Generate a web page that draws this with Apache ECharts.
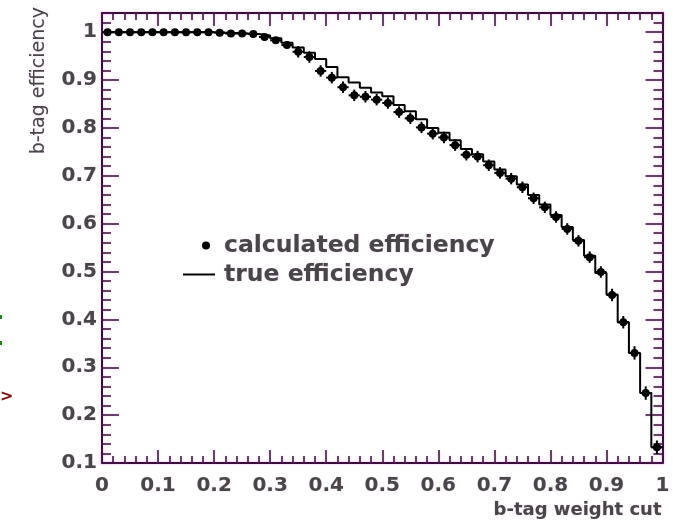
<!DOCTYPE html>
<html>
<head>
<meta charset="utf-8">
<script src="https://cdn.jsdelivr.net/npm/echarts@6/dist/echarts.min.js"></script>
<style>
  html, body { margin: 0; padding: 0; background: #ffffff; }
  #chart { width: 673px; height: 527px; }
</style>
</head>
<body>
<div id="chart"></div>
<script>
// b-tag weight cut values (bin centres, bin width 0.02)
const cutValues = [
  0.01, 0.03, 0.05, 0.07, 0.09, 0.11, 0.13, 0.15, 0.17, 0.19,
  0.21, 0.23, 0.25, 0.27, 0.29, 0.31, 0.33, 0.35, 0.37, 0.39,
  0.41, 0.43, 0.45, 0.47, 0.49, 0.51, 0.53, 0.55, 0.57, 0.59,
  0.61, 0.63, 0.65, 0.67, 0.69, 0.71, 0.73, 0.75, 0.77, 0.79,
  0.81, 0.83, 0.85, 0.87, 0.89, 0.91, 0.93, 0.95, 0.97, 0.99
];
const binHalfWidth = 0.01;

// calculated efficiency (points) and its uncertainty
const calculatedEff = [
  1.000, 1.000, 1.000, 1.000, 1.000, 1.000, 1.000, 1.000, 1.000, 1.000,
  0.999, 0.997, 0.997, 0.996, 0.990, 0.983, 0.973, 0.959, 0.948, 0.919,
  0.905, 0.885, 0.868, 0.865, 0.859, 0.852, 0.833, 0.820, 0.801, 0.788,
  0.780, 0.764, 0.744, 0.740, 0.722, 0.706, 0.694, 0.676, 0.653, 0.634,
  0.614, 0.589, 0.564, 0.530, 0.499, 0.451, 0.394, 0.330, 0.246, 0.133
];
const calculatedErr = [
  0.001, 0.001, 0.001, 0.001, 0.001, 0.001, 0.001, 0.001, 0.001, 0.001,
  0.003, 0.003, 0.003, 0.003, 0.006, 0.006, 0.006, 0.012, 0.012, 0.012,
  0.012, 0.012, 0.012, 0.012, 0.012, 0.012, 0.012, 0.012, 0.012, 0.012,
  0.012, 0.012, 0.012, 0.012, 0.012, 0.012, 0.012, 0.012, 0.012, 0.012,
  0.012, 0.012, 0.012, 0.012, 0.012, 0.013, 0.013, 0.014, 0.014, 0.014
];

// true efficiency (histogram, one value per bin)
const trueEff = [
  1.000, 1.000, 1.000, 1.000, 1.000, 1.000, 1.000, 1.000, 1.000, 1.000,
  0.999, 0.998, 0.997, 0.996, 0.993, 0.987, 0.978, 0.968, 0.957, 0.944,
  0.927, 0.906, 0.895, 0.884, 0.874, 0.866, 0.848, 0.835, 0.818, 0.800,
  0.790, 0.774, 0.756, 0.745, 0.730, 0.713, 0.699, 0.682, 0.660, 0.640,
  0.618, 0.593, 0.566, 0.533, 0.497, 0.452, 0.394, 0.330, 0.246, 0.133
];

const xTitle = 'b-tag weight cut';
const yTitle = 'b-tag efficiency';
const seriesNames = ['calculated efficiency', 'true efficiency'];

const FRAME = '#3a0d3a';
const INK = '#000000';
const TEXT = '#474747';
const HALO = 'rgba(235, 170, 235, 0.35)';
const FONT = 'DejaVu Sans';
const X_MIN = 0, X_MAX = 1, Y_MIN = 0.1, Y_MAX = 1.04;

const tickText = v => String(Number(v.toFixed(2)));
const textStyle = (size, weight) => ({
  color: TEXT, fontFamily: FONT, fontSize: size, fontWeight: weight,
  textBorderColor: HALO, textBorderWidth: 1
});
const frameLine = (w) => ({ color: FRAME, width: w, shadowColor: 'rgba(220, 120, 220, 0.5)', shadowBlur: 2 });

function xAxisDef(position, withLabels) {
  return {
    type: 'value', position: position, min: X_MIN, max: X_MAX, interval: 0.1,
    axisLine: { show: true, onZero: false, lineStyle: frameLine(2) },
    axisTick: { show: true, inside: true, length: 13, lineStyle: frameLine(1.5) },
    minorTick: { show: true, splitNumber: 5, length: 7, lineStyle: frameLine(1.5) },
    axisLabel: withLabels ? Object.assign({ show: true, margin: 13, formatter: tickText },
      textStyle(20, 'bold')) : { show: false },
    splitLine: { show: false }
  };
}

function yAxisDef(position, major, withLabels) {
  return {
    type: 'value', position: position, min: Y_MIN, max: Y_MAX,
    interval: major ? 0.1 : 0.02,
    axisLine: { show: major, onZero: false, lineStyle: frameLine(2) },
    axisTick: { show: true, inside: true, length: major ? 17 : 9, lineStyle: frameLine(1.5) },
    axisLabel: withLabels ? Object.assign({ show: true, margin: 5, formatter: tickText, showMaxLabel: false },
      textStyle(20, 'bold')) : { show: false },
    splitLine: { show: false },
    name: withLabels ? yTitle : '',
    nameLocation: 'end', nameGap: 6, nameRotate: 90,
    nameMoveOverlap: false,
    nameTextStyle: Object.assign(textStyle(19, 'normal'),
      { align: 'right', verticalAlign: 'bottom', padding: [0, 0, 53, 0] })
  };
}

// points with x (bin width) and y error bars
const pointData = cutValues.map((x, i) => [x, calculatedEff[i], calculatedErr[i]]);
// histogram steps drawn from lower bin edges, closed at the upper edge of the last bin
const stepData = cutValues.map((x, i) => [x - binHalfWidth, trueEff[i]]);
stepData.push([cutValues[cutValues.length - 1] + binHalfWidth, trueEff[trueEff.length - 1]]);

const chart = echarts.init(document.getElementById('chart'), null, { renderer: 'canvas' });
chart.setOption({
  animation: false,
  backgroundColor: '#ffffff',
  grid: { left: 102, right: 9, top: 13, bottom: 64, containLabel: false },
  xAxis: [xAxisDef('bottom', true), xAxisDef('top', false)],
  yAxis: [
    yAxisDef('left', true, true),
    yAxisDef('right', true, false),
    yAxisDef('left', false, false),
    yAxisDef('right', false, false)
  ],
  legend: [
    {
      data: [{ name: seriesNames[0], icon: 'circle' }],
      left: 197, top: 228, itemWidth: 8, itemHeight: 8,
      textStyle: Object.assign(textStyle(23.5, 'bold'), { padding: [0, 0, 0, 9] }),
      selectedMode: false
    },
    {
      data: [{ name: seriesNames[1], icon: 'rect' }],
      left: 178, top: 257, itemWidth: 32, itemHeight: 2,
      textStyle: Object.assign(textStyle(23.5, 'bold'), { padding: [0, 0, 0, 4] }),
      selectedMode: false
    }
  ],
  graphic: [
    // x-axis title, right-aligned to the end of the axis
    {
      type: 'text', right: 11, top: 501,
      style: { text: xTitle, fill: TEXT, font: 'bold 18px "DejaVu Sans"', stroke: HALO, lineWidth: 1 }
    },
    { type: 'rect', left: 0, top: 315, shape: { width: 2, height: 4 }, style: { fill: '#1a8a1a' } },
    { type: 'rect', left: 0, top: 341, shape: { width: 2, height: 4 }, style: { fill: '#1a8a1a' } },
    { type: 'text', left: 0, top: 389, style: { text: '>', fill: '#7a0a0a', font: 'bold 16px "DejaVu Sans"' } }
  ],
  series: [
    {
      name: seriesNames[1],
      type: 'line',
      xAxisIndex: 0, yAxisIndex: 0,
      step: 'end',
      symbol: 'none',
      color: INK,
      lineStyle: { color: INK, width: 2 },
      data: stepData,
      z: 3
    },
    {
      name: seriesNames[0],
      type: 'custom',
      xAxisIndex: 0, yAxisIndex: 0,
      color: INK,
      itemStyle: { color: INK },
      data: pointData,
      renderItem: function (params, api) {
        const x = api.value(0), y = api.value(1), e = api.value(2);
        const c = api.coord([x, y]);
        const l = api.coord([x - binHalfWidth, y]);
        const r = api.coord([x + binHalfWidth, y]);
        const t = api.coord([x, y + e]);
        const b = api.coord([x, y - e]);
        return {
          type: 'group',
          children: [
            { type: 'line', shape: { x1: l[0], y1: l[1], x2: r[0], y2: r[1] }, style: { stroke: INK, lineWidth: 2 } },
            { type: 'line', shape: { x1: t[0], y1: t[1], x2: b[0], y2: b[1] }, style: { stroke: INK, lineWidth: 2 } },
            { type: 'circle', shape: { cx: c[0], cy: c[1], r: 4 }, style: { fill: INK } }
          ]
        };
      },
      z: 4
    }
  ]
});
</script>
</body>
</html>
